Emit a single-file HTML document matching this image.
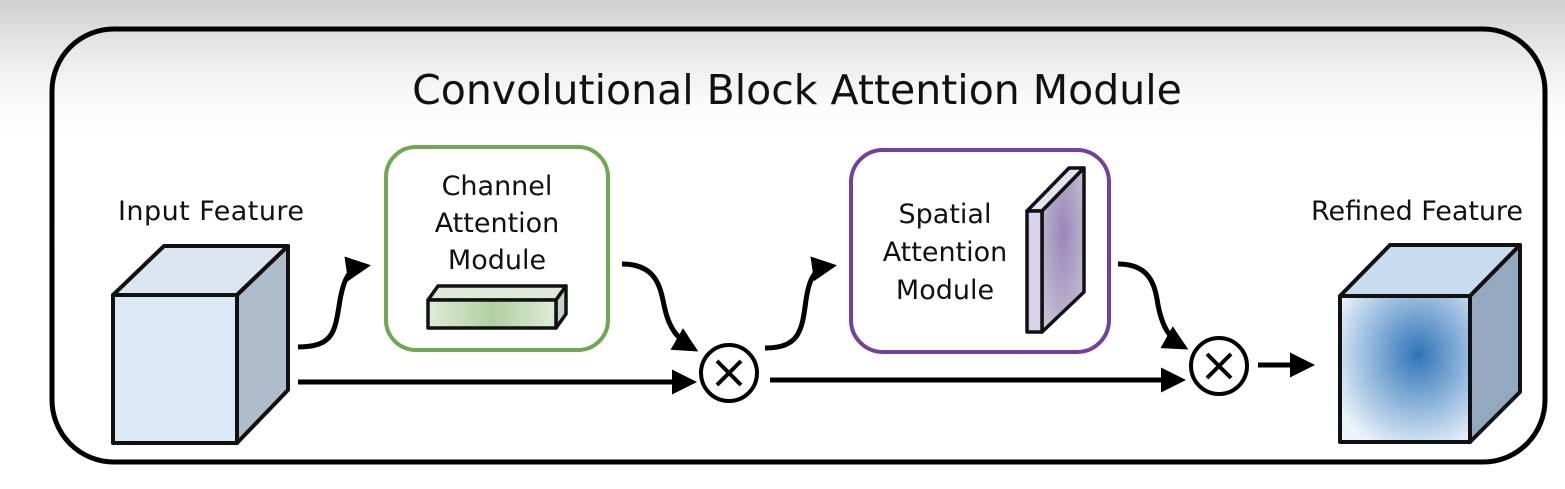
<!DOCTYPE html>
<html><head><style>
html,body{margin:0;padding:0;width:1565px;height:489px;overflow:hidden;background:linear-gradient(#cfcfcf 0px,#e8e8e8 50px,#fafafa 100px,#fff 140px);}
svg{display:block}
text{font-family:"DejaVu Sans","Liberation Sans",sans-serif;fill:#111}
</style></head><body>
<svg width="1565" height="489" viewBox="0 0 1565 489">
<defs>
<radialGradient id="rb" cx="0.6" cy="0.4" r="0.7"><stop offset="0" stop-color="#2f74b8"/><stop offset="1" stop-color="#eaf2fb"/></radialGradient>
<linearGradient id="gb" x1="0" x2="1"><stop offset="0" stop-color="#e0ebd8"/><stop offset="0.5" stop-color="#b0d0a0"/><stop offset="1" stop-color="#e0ebd8"/></linearGradient>
<radialGradient id="pp" cx="0.5" cy="0.4" r="0.7"><stop offset="0" stop-color="#9a87b8"/><stop offset="1" stop-color="#c8c3d6"/></radialGradient>
<marker id="ah" viewBox="0 0 10 10" refX="8" refY="5" markerWidth="5" markerHeight="5" orient="auto"><path d="M0,0 L10,5 L0,10 Z" fill="#000"/></marker>
</defs>
<rect x="52" y="29" width="1493" height="433" rx="62" fill="none" stroke="#000" stroke-width="5"/>
<text x="797" y="104" font-size="41" text-anchor="middle">Convolutional Block Attention Module</text>

<g stroke="#111" stroke-width="4" stroke-linejoin="round">
<polygon points="113,295 164,246 288,246 237,295" fill="#dce6f0"/>
<polygon points="237,295 288,246 288,390 237,443" fill="#aebccb"/>
<rect x="113" y="295" width="124" height="148" fill="#dbe8f5"/>
</g>
<text x="211" y="220" font-size="27" text-anchor="middle" textLength="186">Input Feature</text>

<rect x="386" y="147" width="222" height="203" rx="30" fill="#fff" stroke="#6fa84f" stroke-width="4"/>
<text x="497" y="195" font-size="27" text-anchor="middle">Channel</text>
<text x="497" y="232" font-size="27" text-anchor="middle">Attention</text>
<text x="497" y="269" font-size="27" text-anchor="middle">Module</text>
<g stroke="#111" stroke-width="3.5" stroke-linejoin="round">
<polygon points="428,300 438,286 566,286 556,300" fill="#dfe9da"/>
<polygon points="556,300 566,286 566,314 556,328" fill="#c9d3c4"/>
<rect x="428" y="300" width="128" height="28" fill="url(#gb)"/>
</g>

<rect x="851" y="150" width="258" height="202" rx="32" fill="#fff" stroke="#7440a0" stroke-width="4"/>
<text x="945" y="223" font-size="27" text-anchor="middle">Spatial</text>
<text x="945" y="261" font-size="27" text-anchor="middle">Attention</text>
<text x="945" y="299" font-size="27" text-anchor="middle">Module</text>
<g stroke="#111" stroke-width="3.5" stroke-linejoin="round">
<polygon points="1027,211 1069,168 1084,168 1042,211" fill="#e6e3f0"/>
<polygon points="1042,211 1084,168 1084,292 1042,332" fill="url(#pp)"/>
<rect x="1027" y="211" width="15" height="121" fill="#d8d2ea"/>
</g>

<g stroke="#111" stroke-width="4" stroke-linejoin="round">
<polygon points="1340,296 1390,245 1520,245 1470,296" fill="#c8dcef"/>
<polygon points="1470,296 1520,245 1520,392 1470,442" fill="#93a9c0"/>
<rect x="1340" y="296" width="130" height="146" fill="url(#rb)"/>
</g>
<text x="1417" y="220" font-size="27" text-anchor="middle" textLength="212">Refined Feature</text>

<g fill="none" stroke="#000" stroke-width="5">
<path d="M298,347 C335,347 335,330 340,300 C345,272 352,268 366,266" marker-end="url(#ah)"/>
<path d="M298,382 L692,382" marker-end="url(#ah)"/>
<path d="M622,264 C655,264 660,285 664,305 C668,325 675,338 694,349" marker-end="url(#ah)"/>
<path d="M765,348 C800,348 802,330 806,300 C810,272 818,268 832,266" marker-end="url(#ah)"/>
<path d="M770,380 L1181,380" marker-end="url(#ah)"/>
<path d="M1118,264 C1150,264 1155,285 1158,305 C1162,325 1168,338 1184,347" marker-end="url(#ah)"/>
<path d="M1258,365 L1310,365" marker-end="url(#ah)"/>
</g>
<g fill="#fff" stroke="#000" stroke-width="4">
<circle cx="729" cy="373" r="28"/>
<circle cx="1219" cy="366" r="28"/>
</g>
<g stroke="#000" stroke-width="4">
<path d="M717,361 L741,385 M741,361 L717,385"/>
<path d="M1207,354 L1231,378 M1231,354 L1207,378"/>
</g>
</svg>
</body></html>
